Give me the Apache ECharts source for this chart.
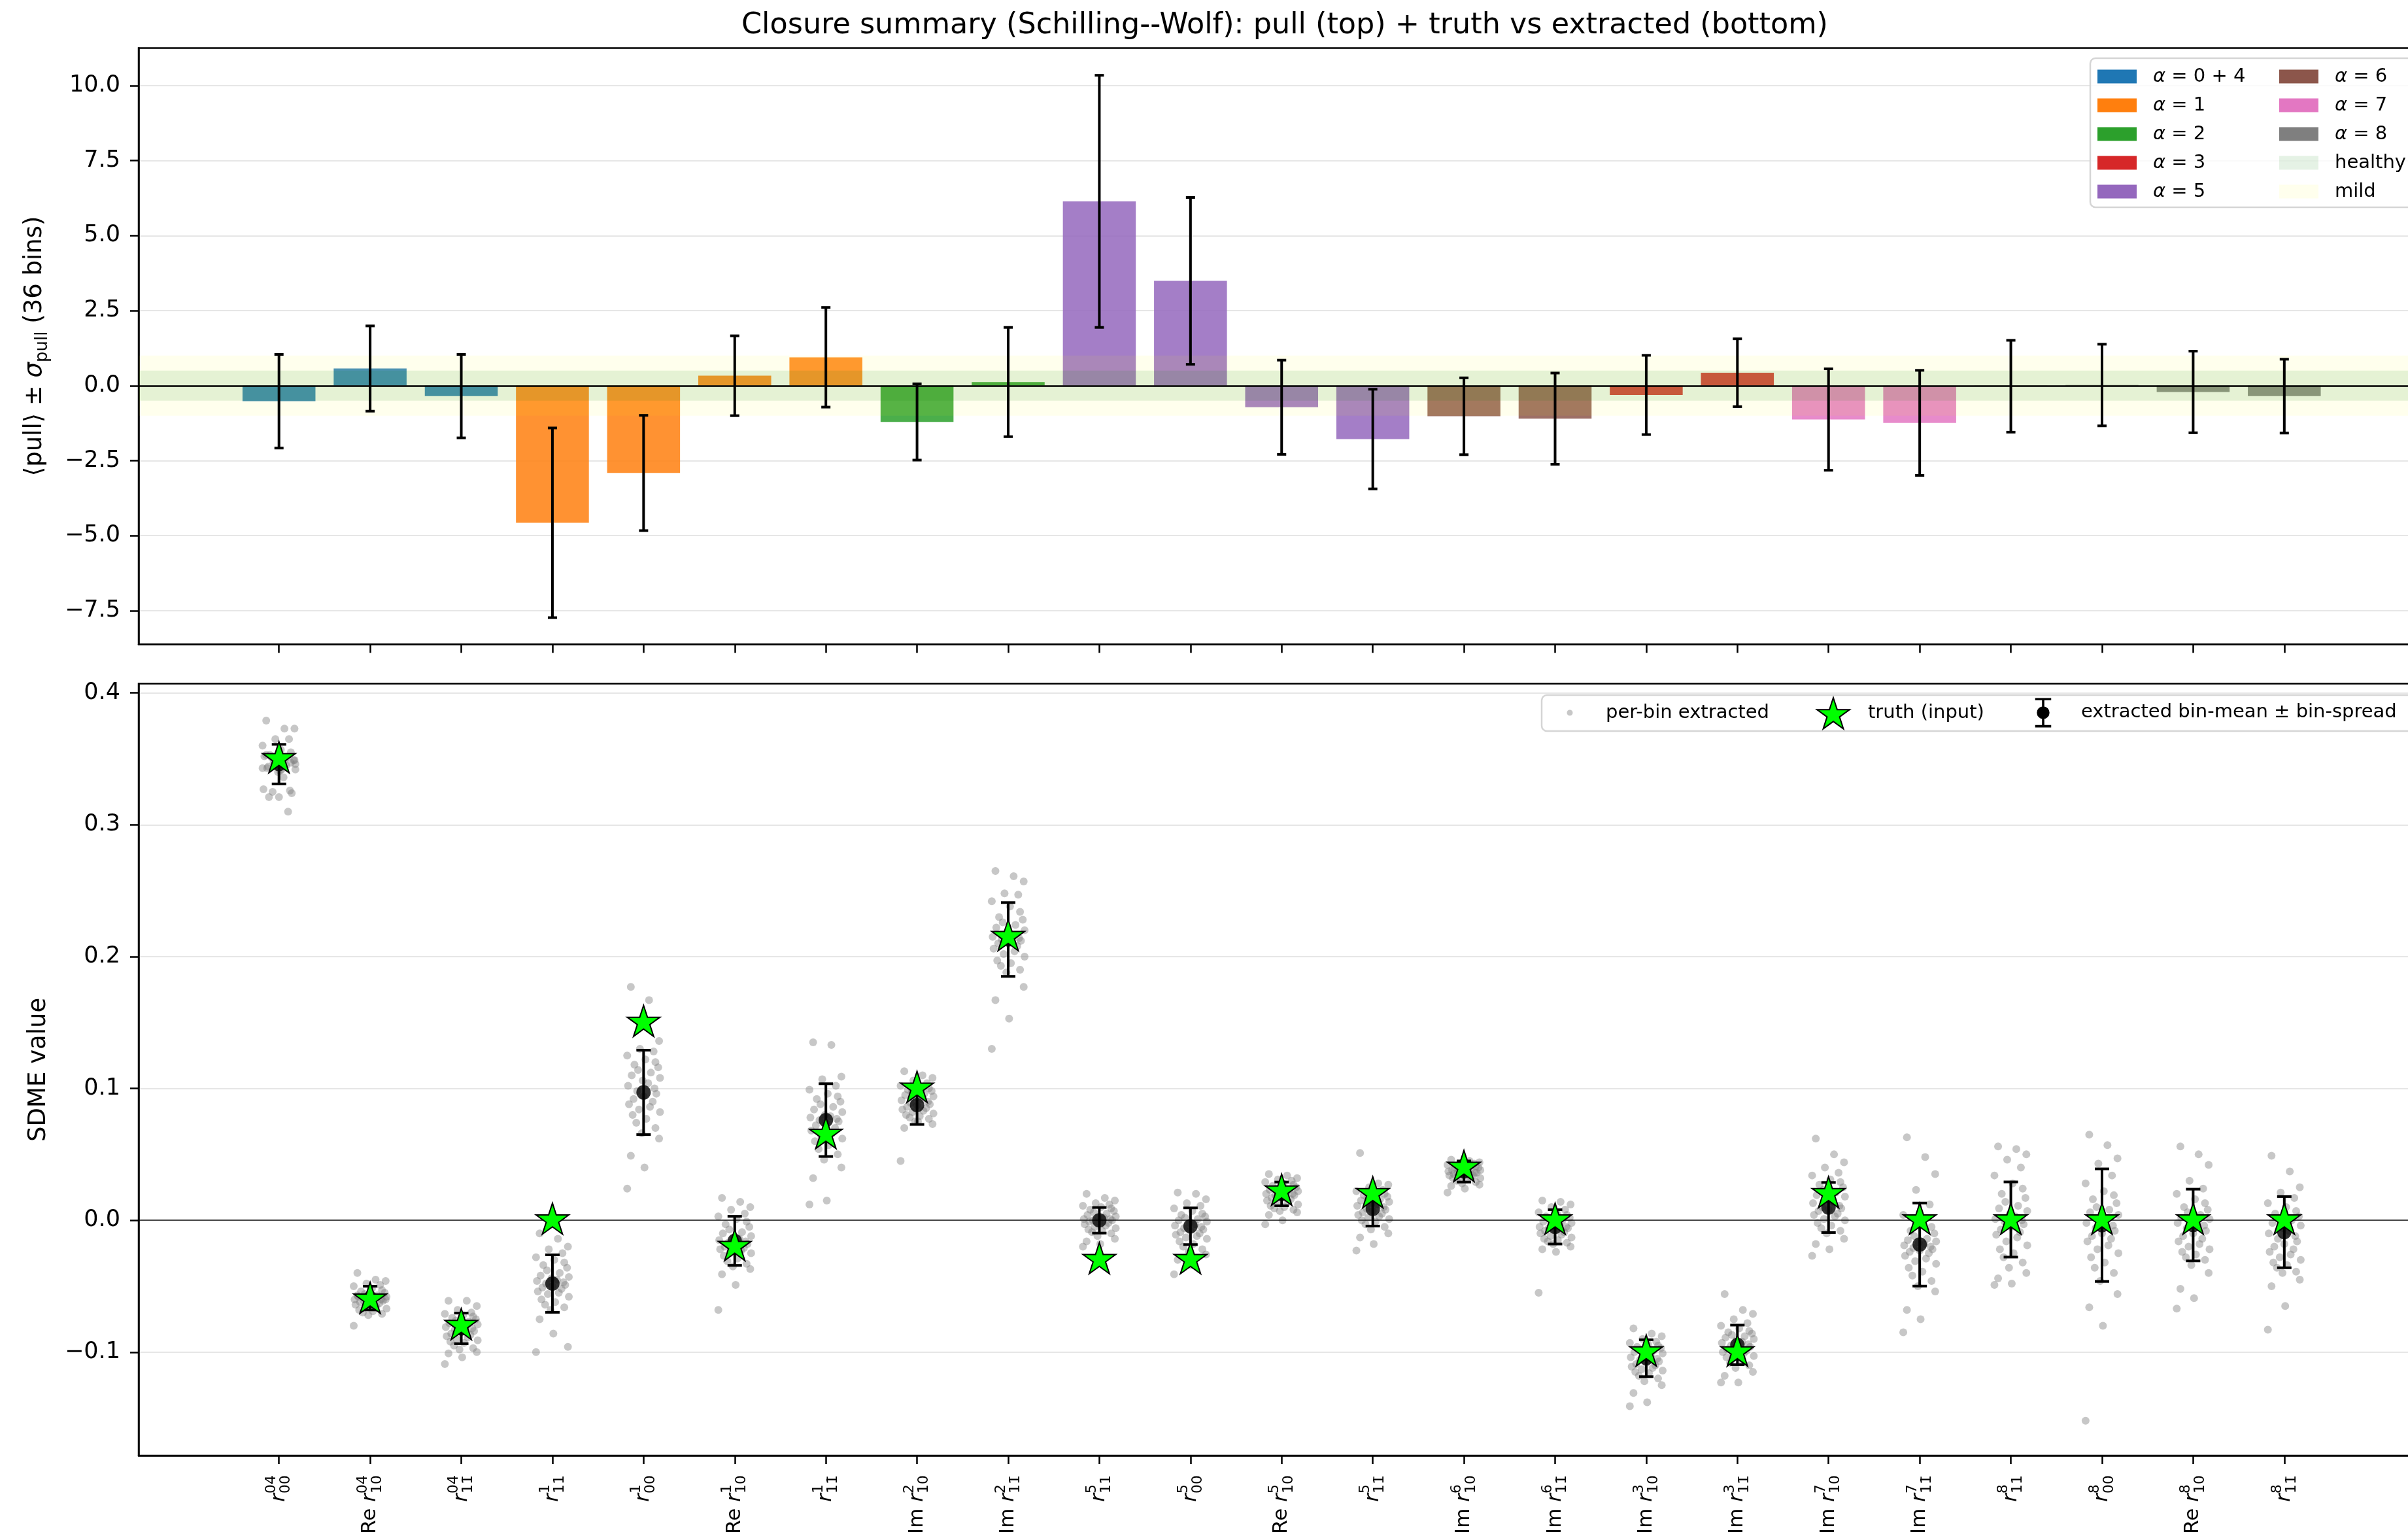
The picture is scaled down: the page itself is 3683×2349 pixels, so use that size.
<!DOCTYPE html>
<html><head><meta charset="utf-8">
<script src="https://cdn.jsdelivr.net/npm/echarts@6/dist/echarts.min.js"></script>
<style>html,body{margin:0;padding:0;overflow:hidden;background:#fff;width:3683px;height:2349px}#c{width:3710px;height:2349px}</style>
</head><body><div id="c"></div><script>
// ---------------- data ----------------
const LABEL_PREFIX = ['', 'Re', '', '', '', 'Re', '', 'Im', 'Im', '', '', 'Re', '', 'Im', 'Im', 'Im', 'Im', 'Im', 'Im', '', '', 'Re', ''];
const LABEL_SUP = ['04','04','04','1','1','1','1','2','2','5','5','5','5','6','6','3','3','7','7','8','8','8','8'];
const LABEL_SUB = ['00','10','11\u0304','11','00','10','11\u0304','10','11\u0304','11','00','10','11\u0304','10','11\u0304','10','11\u0304','10','11\u0304','11','00','10','11\u0304'];
const GROUP_OF = [0,0,0,1,1,1,1,2,2,4,4,4,4,5,5,3,3,6,6,7,7,7,7];
const GROUP_NAMES = ['α = 0 + 4','α = 1','α = 2','α = 3','α = 5','α = 6','α = 7','α = 8'];
const PULL_MEAN = [-0.52,0.57,-0.35,-4.57,-2.91,0.33,0.945,-1.21,0.12,6.14,3.49,-0.72,-1.78,-1.02,-1.10,-0.31,0.43,-1.13,-1.24,-0.02,0.02,-0.21,-0.35];
const PULL_SIGMA = [1.56,1.42,1.39,3.16,1.92,1.33,1.66,1.27,1.82,4.20,2.78,1.57,1.66,1.28,1.52,1.32,1.13,1.69,1.75,1.53,1.36,1.36,1.23];
const HEALTHY = 0.5, MILD = 1.0;
const TOP_TICKS = [-7.5,-5,-2.5,0,2.5,5,7.5,10];
const BOT_TICKS = [-0.1,0,0.1,0.2,0.3,0.4];

const TRUTH = [0.35,-0.06,-0.08,0.0,0.15,-0.02,0.065,0.10,0.215,-0.03,-0.03,0.022,0.02,0.04,0.0,-0.10,-0.10,0.02,0.0,0.0,0.0,0.0,0.0];
const EXTR_MEAN = [0.346,-0.059,-0.082,-0.048,0.097,-0.0156,0.076,0.0874,0.213,0.0,-0.0045,0.020,0.0086,0.037,-0.005,-0.1046,-0.0945,0.0097,-0.0184,0.0006,-0.0037,-0.0036,-0.009];
const EXTR_SPREAD = [0.015,0.009,0.0116,0.0218,0.032,0.0186,0.0276,0.0147,0.028,0.0097,0.0139,0.009,0.013,0.008,0.013,0.014,0.015,0.019,0.0315,0.0285,0.0427,0.0272,0.027];
const JITTER = [-0.14,0.06,0.17,-0.04,0.11,-0.18,0.02,0.13,-0.10,0.16,-0.06,0.08,-0.13,0.18,-0.01,0.05,-0.17,0.12,-0.07,0.14,0.00,-0.11,0.10,-0.16,0.07,-0.05,0.18,-0.12,0.03,-0.08,0.13,-0.02,0.17,-0.14,0.01,-0.18];
const PER_BIN = [
 [.379,.373,.373,.365,.365,.360,.357,.355,.353,.349,.347,.345,.343,.342,.340,.336,.327,.326,.325,.324,.321,.321,.310,.352,.350,.348,.346,.344,.342,.351,.347,.345,.349,.353,.341,.343],
 [-.040,-.045,-.046,-.048,-.049,-.050,-.052,-.053,-.054,-.055,-.056,-.057,-.058,-.058,-.059,-.059,-.060,-.060,-.061,-.061,-.062,-.062,-.063,-.064,-.065,-.066,-.067,-.068,-.069,-.070,-.071,-.072,-.060,-.057,-.063,-.080],
 [-.061,-.061,-.065,-.068,-.070,-.071,-.072,-.073,-.074,-.075,-.076,-.077,-.078,-.079,-.080,-.080,-.081,-.082,-.083,-.084,-.085,-.086,-.087,-.088,-.089,-.090,-.091,-.092,-.093,-.095,-.097,-.098,-.100,-.101,-.104,-.109],
 [-.010,-.014,-.020,-.022,-.025,-.028,-.030,-.032,-.034,-.036,-.038,-.040,-.042,-.043,-.044,-.045,-.046,-.047,-.048,-.049,-.050,-.051,-.052,-.054,-.055,-.056,-.058,-.060,-.062,-.064,-.066,-.068,-.096,-.075,-.086,-.100],
 [.177,.167,.136,.130,.128,.125,.122,.120,.118,.116,.114,.112,.110,.108,.106,.104,.102,.100,.098,.096,.094,.092,.090,.088,.086,.084,.082,.080,.077,.074,.070,.066,.062,.049,.040,.024],
 [.017,.014,.010,.008,.005,.003,.001,-.001,-.003,-.005,-.007,-.009,-.010,-.012,-.013,-.014,-.015,-.016,-.017,-.018,-.019,-.020,-.021,-.022,-.023,-.024,-.025,-.027,-.029,-.031,-.033,-.035,-.037,-.041,-.049,-.068],
 [.135,.133,.109,.107,.102,.099,.096,.094,.092,.090,.088,.086,.084,.082,.080,.079,.078,.077,.076,.075,.074,.072,.070,.068,.066,.064,.062,.060,.057,.054,.050,.046,.040,.032,.015,.012],
 [.113,.110,.108,.106,.104,.102,.101,.100,.099,.098,.097,.096,.095,.094,.093,.092,.091,.090,.089,.088,.087,.086,.085,.084,.083,.082,.081,.080,.079,.078,.077,.075,.073,.070,.075,.045],
 [.265,.261,.257,.248,.247,.242,.238,.234,.230,.228,.226,.224,.222,.220,.218,.216,.215,.214,.213,.212,.211,.210,.208,.206,.204,.202,.200,.197,.195,.193,.190,.188,.177,.167,.153,.130],
 [.020,.017,.015,.013,.012,.011,.010,.009,.008,.007,.006,.005,.004,.003,.002,.002,.001,.001,.000,.000,-.001,-.001,-.002,-.003,-.004,-.005,-.006,-.007,-.008,-.009,-.010,-.012,-.014,-.016,-.018,-.020],
 [.021,.020,.016,.013,.011,.009,.007,.005,.004,.003,.002,.001,.000,-.001,-.002,-.003,-.004,-.005,-.006,-.007,-.008,-.009,-.010,-.011,-.012,-.013,-.014,-.016,-.018,-.020,-.022,-.024,-.026,-.030,-.034,-.041],
 [.035,.034,.032,.031,.030,.029,.028,.027,.026,.025,.024,.023,.023,.022,.021,.021,.020,.020,.019,.019,.018,.017,.016,.015,.014,.013,.012,.011,.010,.009,.008,.007,.006,.004,.000,-.003],
 [.051,.028,.027,.025,.023,.022,.021,.020,.019,.018,.017,.016,.015,.014,.013,.012,.011,.010,.009,.008,.007,.006,.005,.004,.003,.002,.001,.000,-.001,-.003,-.005,-.007,-.010,-.013,-.018,-.023],
 [.046,.045,.044,.043,.043,.042,.041,.041,.040,.040,.039,.039,.038,.038,.037,.037,.037,.036,.036,.036,.035,.035,.034,.034,.033,.033,.032,.032,.031,.030,.029,.028,.027,.026,.024,.021],
 [.015,.014,.012,.010,.008,.006,.005,.004,.003,.002,.001,.000,-.001,-.002,-.003,-.004,-.005,-.005,-.006,-.006,-.007,-.008,-.009,-.010,-.011,-.012,-.013,-.014,-.015,-.016,-.017,-.018,-.020,-.022,-.024,-.055],
 [-.082,-.086,-.088,-.090,-.092,-.093,-.094,-.095,-.096,-.097,-.098,-.099,-.100,-.101,-.102,-.103,-.104,-.105,-.106,-.107,-.108,-.109,-.110,-.111,-.112,-.113,-.114,-.115,-.116,-.118,-.120,-.122,-.125,-.131,-.138,-.141],
 [-.056,-.068,-.071,-.075,-.078,-.080,-.082,-.084,-.085,-.086,-.087,-.088,-.089,-.090,-.091,-.092,-.093,-.094,-.095,-.096,-.097,-.098,-.099,-.100,-.101,-.102,-.103,-.104,-.106,-.108,-.110,-.112,-.115,-.118,-.123,-.123],
 [.062,.050,.044,.040,.036,.034,.031,.029,.027,.025,.023,.021,.019,.018,.016,.014,.013,.011,.010,.009,.008,.007,.005,.004,.003,.001,.000,-.002,-.004,-.006,-.008,-.010,-.014,-.018,-.022,-.027],
 [.063,.048,.035,.023,.012,.004,-.002,-.005,-.008,-.010,-.012,-.014,-.015,-.016,-.017,-.018,-.019,-.020,-.021,-.022,-.023,-.024,-.025,-.027,-.029,-.031,-.033,-.036,-.039,-.042,-.046,-.050,-.054,-.068,-.075,-.085],
 [.056,.054,.050,.046,.040,.034,.028,.024,.020,.017,.014,.011,.009,.007,.005,.003,.001,.000,-.001,-.003,-.005,-.007,-.009,-.011,-.013,-.016,-.019,-.022,-.025,-.028,-.032,-.036,-.040,-.044,-.048,-.049],
 [.065,.057,.047,.043,.034,.028,.022,.019,.016,.013,.010,.008,.006,.004,.002,.000,-.002,-.004,-.006,-.008,-.010,-.012,-.014,-.016,-.019,-.022,-.025,-.028,-.032,-.036,-.040,-.046,-.056,-.066,-.080,-.152],
 [.056,.050,.042,.030,.024,.020,.016,.013,.010,.008,.006,.004,.002,.001,.000,-.001,-.002,-.004,-.006,-.008,-.010,-.012,-.014,-.016,-.018,-.020,-.022,-.024,-.026,-.028,-.030,-.034,-.040,-.052,-.059,-.067],
 [.049,.037,.025,.021,.017,.013,.010,.007,.005,.003,.001,.000,-.002,-.004,-.006,-.008,-.010,-.012,-.014,-.016,-.018,-.020,-.022,-.024,-.026,-.028,-.030,-.032,-.034,-.036,-.039,-.040,-.045,-.050,-.065,-.083]
];

// ---------------- layout / style ----------------
const XMIN = -1.54, XMAX = 23.54;
const TOP_YMIN = -8.62, TOP_YMAX = 11.25;
const BOT_YMIN = -0.1785, BOT_YMAX = 0.407;
const COLORS = ['#1f77b4','#ff7f0e','#2ca02c','#d62728','#9467bd','#8c564b','#e377c2','#7f7f7f'];
const FONT = 'DejaVu Sans';
const STAR = 'path://M0,-100L22.45,-30.9L95.11,-30.9L36.33,11.8L58.78,80.9L0,38.2L-58.78,80.9L-36.33,11.8L-95.11,-30.9L-22.45,-30.9Z';
const ERR_ICON = 'path://M0,0H24V3.5H0Z M10.25,0H13.75V44H10.25Z M0,40.5H24V44H0Z M2.5,22A9.5,9.5,0,1,1,21.5,22A9.5,9.5,0,1,1,2.5,22Z';
const IDX = LABEL_SUP.map((_, i) => i);

const fmt1 = v => (v < -1e-9 ? '\u2212' : '') + Math.abs(v).toFixed(1);

function barRender(params, api) {
  const x = api.value(0), v = api.value(1);
  const a = api.coord([x - 0.4, v]), b = api.coord([x + 0.4, 0]);
  return { type: 'rect', shape: { x: a[0], y: Math.min(a[1], b[1]), width: b[0] - a[0], height: Math.abs(b[1] - a[1]) },
           style: { fill: api.visual('color'), opacity: 0.85 } };
}
function bandRender(half) {
  return function (params, api) {
    const a = api.coord([XMIN, half]), b = api.coord([XMAX, -half]);
    return { type: 'rect', shape: { x: a[0], y: a[1], width: b[0] - a[0], height: b[1] - a[1] }, style: { fill: api.visual('color') } };
  };
}
function errRender(cap, lw) {
  return function (params, api) {
    const x = api.value(0), m = api.value(1), s = api.value(2);
    const t = api.coord([x, m + s]), b = api.coord([x, m - s]);
    const st = { stroke: '#000', lineWidth: lw };
    return { type: 'group', children: [
      { type: 'line', shape: { x1: t[0], y1: t[1], x2: b[0], y2: b[1] }, style: st },
      { type: 'line', shape: { x1: t[0] - cap, y1: t[1], x2: t[0] + cap, y2: t[1] }, style: st },
      { type: 'line', shape: { x1: b[0] - cap, y1: b[1], x2: b[0] + cap, y2: b[1] }, style: st }
    ] };
  };
}

const series = [];
GROUP_NAMES.forEach((name, g) => {
  const data = [];
  PULL_MEAN.forEach((v, i) => { if (GROUP_OF[i] === g) data.push([i, v]); });
  series.push({ type: 'custom', name, xAxisIndex: 0, yAxisIndex: 0, z: 2, renderItem: barRender,
    itemStyle: { color: COLORS[g] }, encode: { x: 0, y: 1 }, data });
});
series.push({ type: 'custom', name: 'mild', xAxisIndex: 0, yAxisIndex: 0, z: 3, renderItem: bandRender(MILD),
  itemStyle: { color: 'rgba(255,255,0,0.07)' }, encode: { x: 0, y: 1 }, data: [[0, 0]], silent: true });
series.push({ type: 'custom', name: 'healthy', xAxisIndex: 0, yAxisIndex: 0, z: 3, renderItem: bandRender(HEALTHY),
  itemStyle: { color: 'rgba(0,128,0,0.1)' }, encode: { x: 0, y: 1 }, data: [[0, 0]], silent: true });
series.push({ type: 'custom', name: 'pullerr', xAxisIndex: 0, yAxisIndex: 0, z: 4, renderItem: errRender(7, 4),
  encode: { x: 0, y: 1 }, data: PULL_MEAN.map((v, i) => [i, v, PULL_SIGMA[i]]),
  markLine: { silent: true, symbol: 'none', label: { show: false }, lineStyle: { color: '#000', width: 2.5, type: 'solid' }, data: [{ yAxis: 0 }] } });

const perBin = [];
PER_BIN.forEach((arr, i) => arr.forEach((v, k) => perBin.push([i + JITTER[k % JITTER.length], v])));
series.push({ type: 'scatter', name: 'per-bin extracted', xAxisIndex: 1, yAxisIndex: 1, z: 2, symbol: 'circle', symbolSize: 12,
  itemStyle: { color: 'rgba(128,128,128,0.55)' }, data: perBin, silent: true,
  markLine: { silent: true, symbol: 'none', label: { show: false }, lineStyle: { color: 'rgba(0,0,0,0.7)', width: 2, type: 'solid' }, data: [{ yAxis: 0 }] } });
series.push({ type: 'custom', name: 'extracted bin-mean ± bin-spread', xAxisIndex: 1, yAxisIndex: 1, z: 3, renderItem: errRender(11, 4),
  itemStyle: { color: '#000' }, encode: { x: 0, y: 1 }, data: EXTR_MEAN.map((v, i) => [i, v, EXTR_SPREAD[i]]) });
series.push({ type: 'scatter', name: 'extracted bin-mean ± bin-spread', xAxisIndex: 1, yAxisIndex: 1, z: 4, symbol: 'circle', symbolSize: 22,
  itemStyle: { color: '#000' }, data: EXTR_MEAN.map((v, i) => [i, v]) });
series.push({ type: 'scatter', name: 'truth (input)', xAxisIndex: 1, yAxisIndex: 1, z: 5, symbol: STAR, symbolSize: 50, symbolKeepAspect: true,
  symbolOffset: [0, -2.5], itemStyle: { color: '#00ff00', borderColor: '#000', borderWidth: 2, opacity: 1 }, data: TRUTH.map((v, i) => [i, v]) });

const axisLineStyle = { color: '#000', width: 2.5 };
const tickStyle = { show: true, inside: false, length: 13, lineStyle: { color: '#000', width: 2.5 } };
const splitStyle = { show: true, lineStyle: { color: '#e6e6e6', width: 2 } };
const tokenBase = { fontFamily: FONT, color: '#000', lineHeight: 44, align: 'left' };

const topLegendCommon = {
  orient: 'vertical', itemWidth: 60, itemHeight: 21, itemGap: 15, padding: 0, icon: 'rect', selectedMode: false, z: 21,
  itemStyle: { opacity: 1 },
  formatter: n => n.replace('α', '{i|α}'),
  textStyle: { fontFamily: FONT, fontSize: 29, color: '#000', padding: [0, 0, 0, 20],
    rich: { i: { fontFamily: FONT, fontSize: 29, fontStyle: 'italic', color: '#000' } } }
};
const botLegendText = { fontFamily: FONT, fontSize: 29, color: '#000' };

const option = {
  animation: false,
  backgroundColor: '#fff',
  textStyle: { fontFamily: FONT },
  title: { text: 'Closure summary (Schilling--Wolf): pull (top) + truth vs extracted (bottom)', left: 1960, top: 12, textAlign: 'center',
    textStyle: { fontFamily: FONT, fontSize: 44.5, fontWeight: 'normal', color: '#000' } },
  grid: [
    { left: 212, top: 73.4, right: 1.5, height: 912, show: true, borderColor: '#000', borderWidth: 2.5, backgroundColor: 'transparent' },
    { left: 212, top: 1045.6, right: 1.5, height: 1184.4, show: true, borderColor: '#000', borderWidth: 2.5, backgroundColor: 'transparent' }
  ],
  xAxis: [
    { type: 'value', gridIndex: 0, min: XMIN, max: XMAX, axisLine: { show: true, onZero: false, lineStyle: axisLineStyle },
      axisTick: Object.assign({ customValues: IDX }, tickStyle), axisLabel: { show: false }, splitLine: { show: false } },
    { type: 'value', gridIndex: 1, min: XMIN, max: XMAX, axisLine: { show: true, onZero: false, lineStyle: axisLineStyle },
      axisTick: Object.assign({ customValues: IDX }, tickStyle), splitLine: { show: false },
      axisLabel: { show: true, customValues: IDX, rotate: 90, margin: 30, color: '#000', fontFamily: FONT, fontSize: 31, lineHeight: 45,
        formatter: v => { const i = Math.round(v); const p = LABEL_PREFIX[i];
          return (p ? '{n|' + p + ' }' : '') + '{r|r}{sup|' + LABEL_SUP[i] + '}{sub|' + LABEL_SUB[i] + '}'; },
        rich: {
          n: Object.assign({ fontSize: 31 }, tokenBase),
          r: Object.assign({ fontSize: 31, fontStyle: 'italic' }, tokenBase),
          sup: Object.assign({ fontSize: 22, width: 0, verticalAlign: 'top' }, tokenBase),
          sub: Object.assign({ fontSize: 22, verticalAlign: 'bottom' }, tokenBase)
        } } }
  ],
  yAxis: [
    { type: 'value', gridIndex: 0, min: TOP_YMIN, max: TOP_YMAX, axisLine: { show: true, onZero: false, lineStyle: axisLineStyle },
      axisTick: Object.assign({ customValues: TOP_TICKS }, tickStyle),
      axisLabel: { customValues: TOP_TICKS, formatter: fmt1, margin: 28, color: '#000', fontFamily: FONT, fontSize: 35 },
      splitLine: splitStyle,
      name: '⟨pull⟩ ± {it|σ}{sub|pull} (36 bins)', nameLocation: 'middle', nameGap: 134,
      nameTextStyle: { fontFamily: FONT, fontSize: 37, color: '#000', lineHeight: 50,
        rich: { it: { fontFamily: FONT, fontSize: 37, fontStyle: 'italic', color: '#000', lineHeight: 50 },
                sub: { fontFamily: FONT, fontSize: 26, color: '#000', verticalAlign: 'bottom', lineHeight: 50 } } } },
    { type: 'value', gridIndex: 1, min: BOT_YMIN, max: BOT_YMAX, axisLine: { show: true, onZero: false, lineStyle: axisLineStyle },
      axisTick: Object.assign({ customValues: BOT_TICKS }, tickStyle),
      axisLabel: { customValues: BOT_TICKS, formatter: fmt1, margin: 28, color: '#000', fontFamily: FONT, fontSize: 35 },
      splitLine: splitStyle,
      name: 'SDME value', nameLocation: 'middle', nameGap: 134,
      nameTextStyle: { fontFamily: FONT, fontSize: 37, color: '#000' } }
  ],
  legend: [
    Object.assign({}, topLegendCommon, { left: 3208, top: 102.5, data: GROUP_NAMES.slice(0, 5) }),
    Object.assign({}, topLegendCommon, { left: 3486, top: 102.5, data: GROUP_NAMES.slice(5).concat(['healthy', 'mild']) }),
    { orient: 'horizontal', left: 2396.5, top: 1075.5, padding: 0, itemWidth: 9, itemHeight: 9, selectedMode: false, z: 21,
      data: [{ name: 'per-bin extracted', icon: 'circle' }], textStyle: Object.assign({ padding: [0, 0, 0, 45.5] }, botLegendText) },
    { orient: 'horizontal', left: 2778, top: 1066, padding: 0, itemWidth: 50, itemHeight: 48, selectedMode: false, z: 21, symbolKeepAspect: true,
      data: [{ name: 'truth (input)', icon: STAR }], textStyle: Object.assign({ padding: [0, 0, 0, 23] }, botLegendText) },
    { orient: 'horizontal', left: 3112.75, top: 1067.5, padding: 0, itemWidth: 24.5, itemHeight: 45, selectedMode: false, z: 21, symbolKeepAspect: true,
      data: [{ name: 'extracted bin-mean ± bin-spread', icon: ERR_ICON, itemStyle: { color: '#000', borderWidth: 0 } }],
      textStyle: Object.assign({ padding: [0, 0, 0, 40.75] }, botLegendText) }
  ],
  graphic: [
    { type: 'rect', z: 20, silent: true, shape: { x: 3197, y: 89, width: 700, height: 228, r: 8 },
      style: { fill: 'rgba(255,255,255,0.8)', stroke: '#d5d5d5', lineWidth: 2.5 } },
    { type: 'rect', z: 20, silent: true, shape: { x: 2358, y: 1063, width: 1500, height: 55, r: 8 },
      style: { fill: 'rgba(255,255,255,0.8)', stroke: '#d5d5d5', lineWidth: 2.5 } }
  ],
  series
};

const chart = echarts.init(document.getElementById('c'), null, { renderer: 'canvas' });
chart.setOption(option);
</script></body></html>
